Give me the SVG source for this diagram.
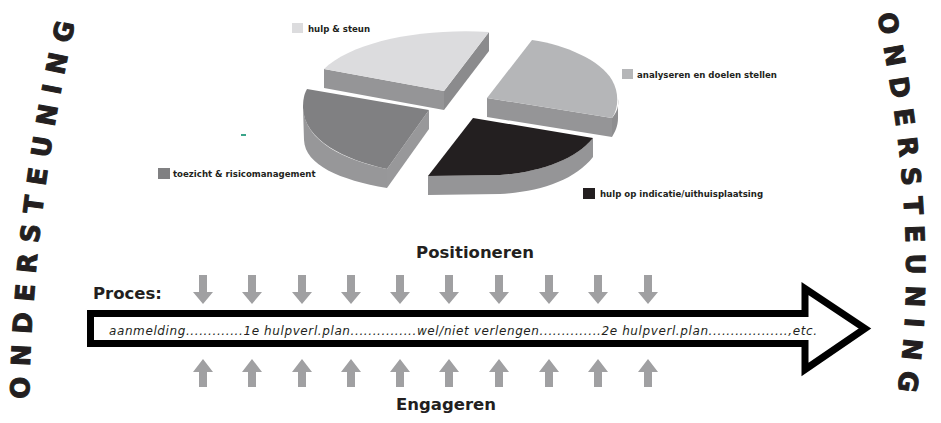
<svg xmlns="http://www.w3.org/2000/svg" width="941" height="423" viewBox="0 0 941 423">
<defs>
<style>
.leg{font-family:"DejaVu Sans","Verdana",sans-serif;font-weight:bold;font-size:8.6px;fill:#231f20}
.big{font-family:"DejaVu Sans","Verdana",sans-serif;font-weight:bold;fill:#231f20}
.ond{font-family:"DejaVu Sans","Verdana",sans-serif;font-weight:bold;font-size:26px;fill:#231f20;stroke:#231f20;stroke-width:1;letter-spacing:10.5px}
.proc{font-family:"DejaVu Sans","Verdana",sans-serif;font-style:italic;font-size:12px;fill:#231f20}
.ga{fill:#a0a0a2}
</style>
<path id="pl" d="M29,399 Q 33,200 79,5"/>
<path id="pr" d="M877,14 Q 926,250 893,416"/>
</defs>
<rect width="941" height="423" fill="#ffffff"/>

<g id="ondersteuning-left">
<text class="ond"><textPath href="#pl">ONDERSTEUNING</textPath></text>
</g>
<g id="ondersteuning-right">
<text class="ond"><textPath href="#pr">ONDERSTEUNING</textPath></text>
</g>

<g id="slice-hulp-steun">
<path d="M324,69 L444,91 L444,110 L324,88 Z" fill="#959597"/>
<path d="M444,91 L489,32 L489,51 L444,110 Z" fill="#8b8b8d"/>
<path d="M324,69 C352,42 420,28 489,32 L444,91 Z" fill="#dcdcde"/>
</g>
<g id="slice-analyseren">
<path d="M487,98 L612,118 L612,137 L487,117 Z" fill="#959597"/>
<path d="M612,118 C617,112 619,106 618,99 L618,118 C618,126 615,132 612,137 Z" fill="#8e8e90"/>
<path d="M487,98 L532,40 C566,45 600,60 612,80 C619,92 619,108 612,118 Z" fill="#b5b6b8"/>
</g>
<g id="slice-toezicht">
<path d="M303,108 C305,142 345,160 387,169 L387,188 C340,180 305,165 304,140 Z" fill="#979799"/>
<path d="M429,110 L387,169 L387,188 L429,129 Z" fill="#98989a"/>
<path d="M307,89 L429,110 L387,169 C345,160 304,140 303,108 C303,100 304,94 307,89 Z" fill="#808082"/>
</g>
<g id="slice-hulp-indicatie">
<path d="M428,176 L500,175 C540,172 575,160 593,138 L593,157 C575,180 540,192 500,194 L428,195 Z" fill="#959597"/>
<path d="M473,118 L593,138 C575,160 540,172 500,175 L428,176 Z" fill="#231f20"/>
</g>

<g id="legend-hulp-steun">
<rect x="292" y="23" width="11" height="10" fill="#dcdcde"/>
<text class="leg" x="308" y="32">hulp &amp; steun</text>
</g>
<g id="legend-analyseren">
<rect x="622" y="69" width="11" height="10" fill="#b5b6b8"/>
<text class="leg" x="637" y="78">analyseren en doelen stellen</text>
</g>
<g id="legend-toezicht">
<rect x="158" y="168" width="12" height="11" fill="#808082"/>
<text class="leg" x="173" y="177">toezicht &amp; risicomanagement</text>
</g>
<g id="legend-hulp-indicatie">
<rect x="583" y="188" width="12" height="11" fill="#231f20"/>
<text class="leg" x="600" y="197">hulp op indicatie/uithuisplaatsing</text>
</g>
<rect x="241" y="134" width="5" height="2" fill="#3aa58a"/>

<g id="positioneren">
<text class="big" x="475" y="258" font-size="16.5" text-anchor="middle">Positioneren</text>
</g>
<g id="proces-label">
<text class="big" x="93" y="299" font-size="16.5">Proces:</text>
</g>
<g id="proces-arrow">
<path d="M90.5,313.5 L805,313.5 L805,288.5 L865,328.5 L805,369.5 L805,343.5 L90.5,343.5 Z" fill="#ffffff" stroke="#000000" stroke-width="7" stroke-linejoin="miter"/>
<text class="proc" x="109" y="335" textLength="708" lengthAdjust="spacing">aanmelding.............1e hulpverl.plan...............wel/niet verlengen..............2e hulpverl.plan..................,etc.</text>
</g>
<g id="engageren">
<text class="big" x="446" y="410" font-size="16.5" text-anchor="middle">Engageren</text>
</g>

<g id="connectors">
<g id="down-arrows">
<path class="ga" d="M199,275 h8 v17 h6 l-10,12 l-10,-12 h6 z"/>
<path class="ga" d="M248,275 h8 v17 h6 l-10,12 l-10,-12 h6 z"/>
<path class="ga" d="M298,275 h8 v17 h6 l-10,12 l-10,-12 h6 z"/>
<path class="ga" d="M347,275 h8 v17 h6 l-10,12 l-10,-12 h6 z"/>
<path class="ga" d="M396,275 h8 v17 h6 l-10,12 l-10,-12 h6 z"/>
<path class="ga" d="M445,275 h8 v17 h6 l-10,12 l-10,-12 h6 z"/>
<path class="ga" d="M495,275 h8 v17 h6 l-10,12 l-10,-12 h6 z"/>
<path class="ga" d="M545,275 h8 v17 h6 l-10,12 l-10,-12 h6 z"/>
<path class="ga" d="M594,275 h8 v17 h6 l-10,12 l-10,-12 h6 z"/>
<path class="ga" d="M644,275 h8 v17 h6 l-10,12 l-10,-12 h6 z"/>
</g>
<g id="up-arrows">
<path class="ga" d="M199,387 h8 v-15 h6 l-10,-13 l-10,13 h6 z"/>
<path class="ga" d="M248,387 h8 v-15 h6 l-10,-13 l-10,13 h6 z"/>
<path class="ga" d="M298,387 h8 v-15 h6 l-10,-13 l-10,13 h6 z"/>
<path class="ga" d="M347,387 h8 v-15 h6 l-10,-13 l-10,13 h6 z"/>
<path class="ga" d="M396,387 h8 v-15 h6 l-10,-13 l-10,13 h6 z"/>
<path class="ga" d="M445,387 h8 v-15 h6 l-10,-13 l-10,13 h6 z"/>
<path class="ga" d="M495,387 h8 v-15 h6 l-10,-13 l-10,13 h6 z"/>
<path class="ga" d="M545,387 h8 v-15 h6 l-10,-13 l-10,13 h6 z"/>
<path class="ga" d="M594,387 h8 v-15 h6 l-10,-13 l-10,13 h6 z"/>
<path class="ga" d="M644,387 h8 v-15 h6 l-10,-13 l-10,13 h6 z"/>
</g>
</g>
</svg>
